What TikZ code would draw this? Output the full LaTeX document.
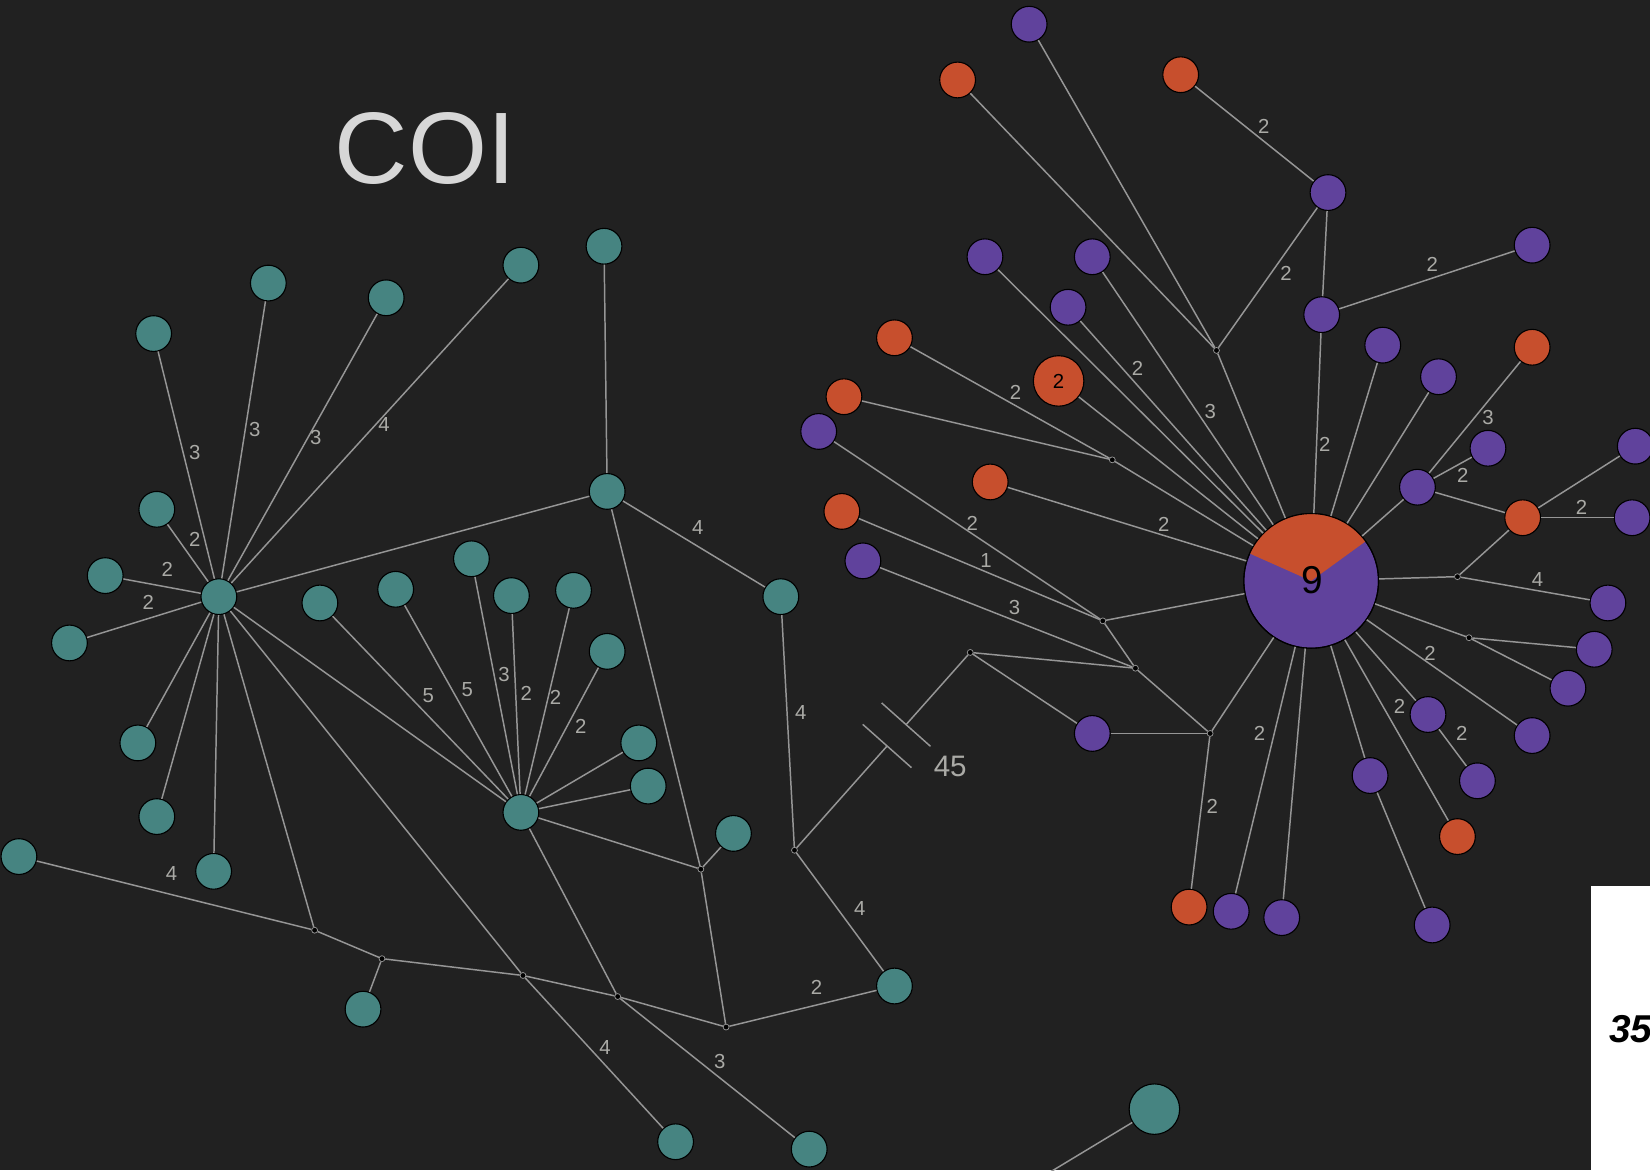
\documentclass[tikz,border=0pt]{standalone}
\usepackage{fontspec}
\setmainfont{Liberation Sans}
\usetikzlibrary{calc}
\definecolor{bgc}{RGB}{33,33,33}
\definecolor{tealc}{RGB}{70,132,129}
\definecolor{purc}{RGB}{96,66,156}
\definecolor{orc}{RGB}{199,79,45}
\definecolor{edgec}{RGB}{150,150,150}
\definecolor{lblc}{RGB}{170,170,166}
\definecolor{titlec}{RGB}{215,215,215}
\begin{document}
\begin{tikzpicture}[x=0.02cm,y=-0.02cm,
  hap/.style={circle, draw=black, line width=0.6pt, minimum size=0.68cm, inner sep=0pt},
  tl/.style={hap, fill=tealc},
  pu/.style={hap, fill=purc},
  og/.style={hap, fill=orc},
  mv/.style={circle, fill=black, draw=edgec, line width=0.4pt, minimum size=3.2pt, inner sep=0pt},
  lbl/.style={text=lblc, font=\fontsize{11}{12}\selectfont, inner sep=0pt},
  con/.style={draw=edgec, line width=0.8pt}
]
\useasboundingbox (0,0) rectangle (1568,1112);
\clip (0,0) rectangle (1568,1112);
\fill[bgc] (0,0) rectangle (1568,1112);

% title
\node[text=titlec, font=\fontsize{55}{60}\selectfont, inner sep=0pt] (title) at (404,141) {COI};

% teal haplotypes
\foreach \n/\x/\y in {t1/146/317, t2/255/269, t3/367/283, t4/495/252, t5/574/234,
  t6/149/484, t7/100/547, t8/66/611, H1/208/567,
  t9/304/573, t10/376/560, t11/448/531, t12/486/566, t13/545/561, t14/577/619,
  H3/577/467, t15/742/567, t16/131/706, t17/149/776, t18/203/828, t19/18/814,
  H2/495/772, t20/607/706, t21/616/747, t22/697/792,
  t23/345/959, t24/850/937, t25/642/1085, t26/769/1092}
  \node[tl] (\n) at (\x,\y) {};
\node[tl, minimum size=0.96cm] (TB) at (1097,1054) {};
\coordinate (TBend) at (991,1118);

% median vectors
\foreach \n/\x/\y in {J1/299/884, J2/363/911, J3/497/927, J4/587/947, J5/690/976, J6/666/826, J7/755/808,
  K1/1156/333, K2/1057/437, K3/1048/590, K4/1079/635, K5/922/620, K6/1150/697, K7/1385/548, K8/1396/606}
  \node[mv] (\n) at (\x,\y) {};

% purple haplotypes
\foreach \n/\x/\y in {p1/978/23, p2/1262/183, p3/936/244, p4/1038/244, p5/1015/292,
  p6/1256/299, p7/1456/233, p8/1314/328, p9/1367/358, p10/778/410, p11/820/533,
  p12/1414/426, p13/1347/463, p14/1554/424, p15/1551/492, p16/1528/573, p17/1515/617,
  p18/1490/654, p19/1456/699, p20/1357/679, p21/1404/742, p22/1302/737, p23/1361/879,
  p24/1038/697, p25/1170/866, p26/1218/872}
  \node[pu] (\n) at (\x,\y) {};

% orange haplotypes
\foreach \n/\x/\y in {o1/910/76, o2/1122/71, o3/1456/330, o4/850/321, o6/802/377,
  o7/941/458, o8/800/486, o9/1447/492, o10/1385/795, o11/1130/862}
  \node[og] (\n) at (\x,\y) {};
\node[og, minimum size=0.96cm, font=\fontsize{11}{12}\selectfont] (o5) at (1006,362) {2};

% central pie node
\node[hap, fill=purc, minimum size=2.56cm] (C) at (1246,552) {};
\fill[orc] (C.center) -- ++(36:1.28cm) arc (36:156:1.28cm) -- cycle;
\draw[black, line width=0.6pt] (C.center) circle (1.28cm);
\node[font=\fontsize{21}{24}\selectfont, text=black, inner sep=0pt] (nine) at (1247,551) {9};

% connectors (teal)
\foreach \a/\b in {H1/t1, H1/t2, H1/t3, H1/t4, H1/t6, H1/t7, H1/t8, H1/t16, H1/t17, H1/t18,
  H1/H3, H1/H2, H1/J1, H1/J3, H3/t5, H3/t15, H3/J6, t15/J7, J7/t24,
  t19/J1, J1/J2, J2/t23, J2/J3, J3/t25, J3/J4, J4/H2, J4/t26, J4/J5, J5/t24, J5/J6, J6/t22, J6/H2,
  H2/t9, H2/t10, H2/t11, H2/t12, H2/t13, H2/t14, H2/t20, H2/t21, TB/TBend}
  \draw[con] (\a) -- (\b);

% connectors (purple/orange)
\foreach \a/\b in {p1/K1, o1/K1, K1/C, o2/p2, p2/K1, p2/p6, p6/p7, p6/C, p3/C, p4/C, p5/C, o5/C,
  o4/K2, o6/K2, K2/C, p10/K3, o8/K3, K3/C, K3/K4, p11/K4, o7/C, K4/K5, K4/K6, K5/p24, p24/K6,
  K6/C, K6/o11, C/p25, C/p26, C/p22, p22/p23, C/o10, C/p20, p20/p21, C/p19, C/K8, K8/p17, K8/p18,
  C/K7, K7/p16, K7/o9, o9/p14, o9/p15, o9/p13, p13/p12, p13/o3, p13/C, C/p9, C/p8}
  \draw[con] (\a) -- (\b);

% broken long connector with 45 steps
\coordinate (b1) at ($(K5)!0.365!(J7)$);
\coordinate (b2) at ($(K5)!0.473!(J7)$);
\draw[con] (K5) -- (b1);
\draw[con] (b2) -- (J7);
\draw[con] ($(b1)!0.62cm!90:(K5)$) -- ($(b1)!0.62cm!-90:(K5)$);
\draw[con] ($(b2)!0.62cm!90:(K5)$) -- ($(b2)!0.62cm!-90:(K5)$);
\node[text=lblc, font=\fontsize{16}{18}\selectfont, inner sep=0pt] (l45) at (903,728) {45};

% edge labels
\foreach \n/\x/\y/\t in {a1/185/430/3, a2/242/408/3, a3/300/416/3, a4/365/403/4, a5/185/513/2,
  a6/159/541/2, a7/141/572/2, a8/163/830/4, a9/407/661/5, a10/444/655/5, a11/479/641/3,
  a12/500/659/2, a13/528/663/2, a14/552/690/2, a15/663/501/4, a16/761/677/4, a17/817/863/4,
  a18/776/938/2, a19/575/995/4, a20/684/1009/3,
  b1/1201/120/2, b2/1222/260/2, b3/1361/251/2, b4/1081/350/2, b5/1150/391/3, b6/965/373/2,
  b7/1259/422/2, b8/1414/397/3, b9/1390/452/2, b10/924/497/2, b11/1106/498/2, b12/937/533/1,
  b13/964/577/3, b14/1503/482/2, b15/1461/551/4, b16/1359/621/2, b17/1330/671/2, b18/1389/697/2,
  b19/1197/697/2, b20/1152/766/2}
  \node[lbl] (lab\n) at (\x,\y) {\t};

% white panel at right
\fill[white] (1512,842) rectangle (1580,1120);
\node[anchor=west, text=black, font=\fontsize{21}{24}\selectfont\bfseries\itshape, inner sep=0pt] (p35) at (1529,978) {35};
\end{tikzpicture}
\end{document}
